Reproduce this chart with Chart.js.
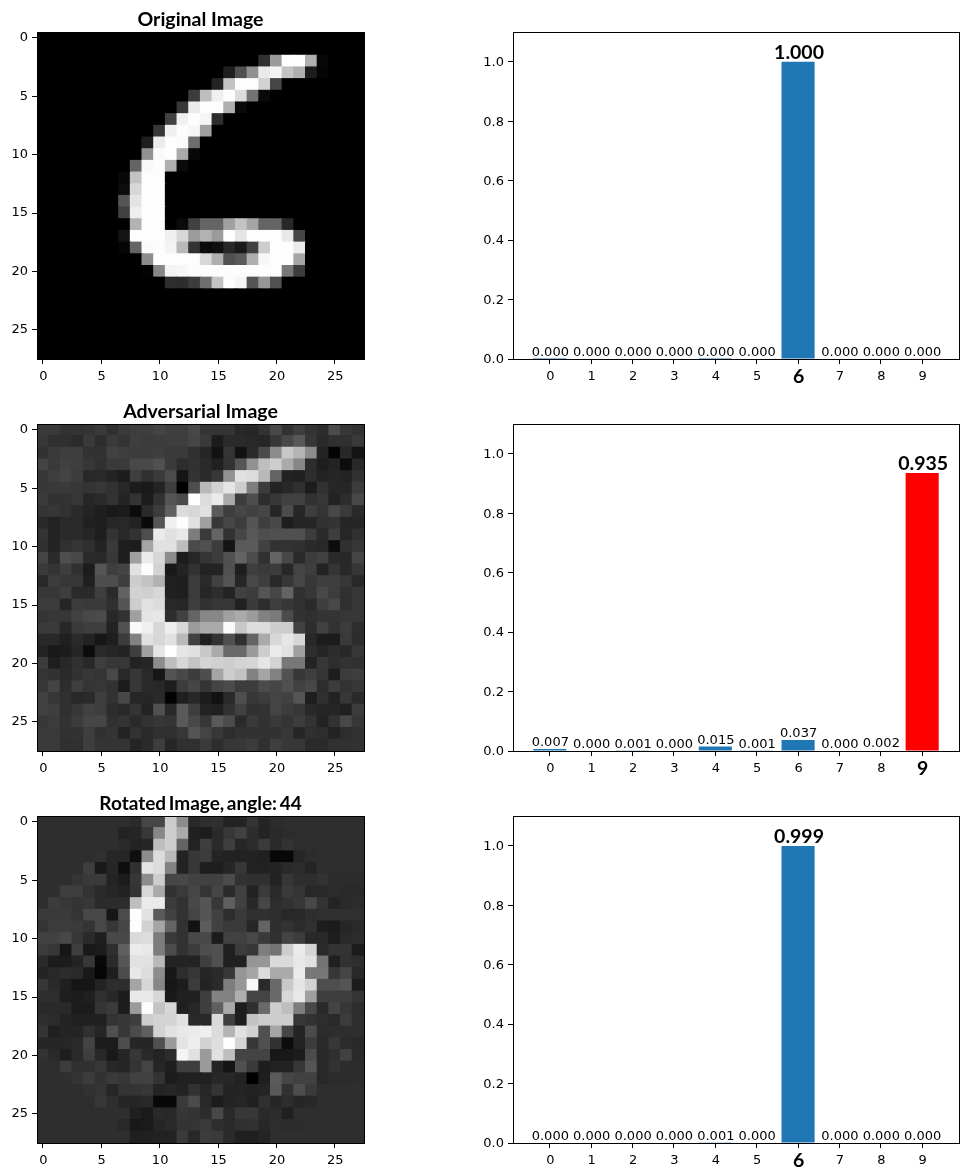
<!DOCTYPE html>
<html>
<head>
<meta charset="utf-8">
<title>MNIST predictions</title>
<script src="https://cdn.jsdelivr.net/npm/chart.js@4"></script>
<style>
    html, body { margin: 0; padding: 0; background: #fff; }
    canvas { position: absolute; }
</style>
</head>
<body>
<canvas id="image0" width="402" height="392" style="left:0;top:0"></canvas>
<canvas id="bars0" width="512" height="392" style="left:460px;top:0"></canvas>
<canvas id="image1" width="402" height="392" style="left:0;top:392px"></canvas>
<canvas id="bars1" width="512" height="392" style="left:460px;top:392px"></canvas>
<canvas id="image2" width="402" height="392" style="left:0;top:784px"></canvas>
<canvas id="bars2" width="512" height="392" style="left:460px;top:784px"></canvas>
<script>
const imageTicks = [0, 5, 10, 15, 20, 25];
const digits = [0, 1, 2, 3, 4, 5, 6, 7, 8, 9];
const probTicks = [0, 0.2, 0.4, 0.6, 0.8, 1.0];

const originalProbs = [0.0004, 0, 0, 0, 0.0004, 0, 1.0, 0, 0, 0.0002];
const adversarialProbs = [0.007, 0, 0.001, 0, 0.015, 0.001, 0.037, 0, 0.002, 0.935];
const rotatedProbs = [0, 0, 0, 0, 0.001, 0, 0.999, 0, 0, 0];

const imageTitles = ['Original Image', 'Adversarial Image', 'Rotated Image, angle: 44'];
const boldDigits = [6, 9, 6];
const redDigit = 9;

const originalImage = [
    [0,0,0,0,0,0,0,0,0,0,0,0,0,0,0,0,0,0,0,0,0,0,0,0,0,0,0,0],
    [0,0,0,0,0,0,0,0,0,0,0,0,0,0,0,0,0,0,0,0,0,0,0,0,0,0,0,0],
    [0,0,0,0,0,0,0,0,0,0,0,0,0,0,0,0,0,0,0,48,155,255,255,175,8,0,0,0],
    [0,0,0,0,0,0,0,0,0,0,0,0,0,0,0,0,30,80,145,235,245,195,175,28,5,0,0,0],
    [0,0,0,0,0,0,0,0,0,0,0,0,0,0,0,35,195,253,253,210,70,0,0,0,0,0,0,0],
    [0,0,0,0,0,0,0,0,0,0,0,0,0,60,190,240,253,220,115,10,0,0,0,0,0,0,0,0],
    [0,0,0,0,0,0,0,0,0,0,0,0,55,235,253,253,175,10,0,0,0,0,0,0,0,0,0,0],
    [0,0,0,0,0,0,0,0,0,0,0,65,240,253,245,45,0,0,0,0,0,0,0,0,0,0,0,0],
    [0,0,0,0,0,0,0,0,0,0,55,240,253,247,160,0,0,0,0,0,0,0,0,0,0,0,0,0],
    [0,0,0,0,0,0,0,0,0,30,235,253,250,110,0,0,0,0,0,0,0,0,0,0,0,0,0,0],
    [0,0,0,0,0,0,0,0,0,145,250,253,170,8,0,0,0,0,0,0,0,0,0,0,0,0,0,0],
    [0,0,0,0,0,0,0,0,100,248,253,175,10,0,0,0,0,0,0,0,0,0,0,0,0,0,0,0],
    [0,0,0,0,0,0,0,8,195,253,253,0,0,0,0,0,0,0,0,0,0,0,0,0,0,0,0,0],
    [0,0,0,0,0,0,0,12,215,253,253,0,0,0,0,0,0,0,0,0,0,0,0,0,0,0,0,0],
    [0,0,0,0,0,0,0,85,228,253,253,0,0,0,0,0,0,0,0,0,0,0,0,0,0,0,0,0],
    [0,0,0,0,0,0,0,65,238,253,253,0,0,0,0,0,0,0,0,0,0,0,0,0,0,0,0,0],
    [0,0,0,0,0,0,0,0,178,253,253,0,10,65,100,100,160,195,165,100,100,40,0,0,0,0,0,0],
    [0,0,0,0,0,0,0,20,253,253,253,240,215,155,178,155,253,228,253,253,253,232,70,0,0,0,0,0],
    [0,0,0,0,0,0,0,5,100,250,253,243,185,50,10,15,40,25,65,205,253,253,235,0,0,0,0,0],
    [0,0,0,0,0,0,0,0,0,140,253,253,253,253,215,175,80,90,175,247,253,253,165,0,0,0,0,0],
    [0,0,0,0,0,0,0,0,0,3,135,243,247,253,253,253,253,253,253,253,253,120,60,0,0,0,0,0],
    [0,0,0,0,0,0,0,0,0,0,0,45,45,60,110,195,253,245,85,150,80,0,0,0,0,0,0,0],
    [0,0,0,0,0,0,0,0,0,0,0,0,0,0,0,0,0,0,0,0,0,0,0,0,0,0,0,0],
    [0,0,0,0,0,0,0,0,0,0,0,0,0,0,0,0,0,0,0,0,0,0,0,0,0,0,0,0],
    [0,0,0,0,0,0,0,0,0,0,0,0,0,0,0,0,0,0,0,0,0,0,0,0,0,0,0,0],
    [0,0,0,0,0,0,0,0,0,0,0,0,0,0,0,0,0,0,0,0,0,0,0,0,0,0,0,0],
    [0,0,0,0,0,0,0,0,0,0,0,0,0,0,0,0,0,0,0,0,0,0,0,0,0,0,0,0],
    [0,0,0,0,0,0,0,0,0,0,0,0,0,0,0,0,0,0,0,0,0,0,0,0,0,0,0,0]
];

const adversarialImage = [
    [58,58,50,50,52,58,48,58,62,62,68,62,62,72,52,52,52,40,38,50,72,50,62,52,45,75,55,50],
    [55,48,48,42,58,45,58,52,62,60,60,62,62,70,58,28,42,42,40,38,55,72,88,55,42,48,48,58],
    [50,58,62,62,50,50,65,62,60,60,62,58,58,48,38,18,52,18,42,75,140,200,180,140,35,5,40,20],
    [68,58,65,62,55,48,58,58,72,72,80,58,45,50,42,32,50,85,145,190,205,170,135,45,30,35,12,40],
    [55,62,68,60,40,42,35,28,62,48,58,75,22,52,42,55,145,225,220,185,100,35,32,45,35,38,35,50],
    [55,58,58,55,52,55,50,40,28,25,35,62,0,78,185,210,230,205,125,60,35,40,48,28,50,38,38,60],
    [58,50,50,55,38,42,50,36,52,28,50,85,75,255,220,235,170,60,78,45,55,65,65,50,55,35,45,72],
    [52,55,50,42,35,30,25,28,12,42,60,95,220,215,225,90,62,70,65,70,38,75,38,62,52,72,58,42],
    [40,35,42,42,32,30,38,40,34,10,85,240,253,225,160,55,70,60,85,62,72,30,38,38,50,52,38,38],
    [52,35,42,42,38,30,52,40,50,78,235,225,232,125,58,100,50,70,88,78,80,80,80,60,42,62,38,48],
    [48,35,48,52,48,35,58,30,28,165,225,225,190,75,80,60,20,90,90,65,50,50,48,42,40,12,48,55],
    [68,42,78,72,42,40,55,30,160,235,215,140,28,38,52,60,80,100,75,48,100,72,42,60,65,42,40,68],
    [58,52,62,48,28,85,62,68,225,253,210,25,35,50,35,35,80,30,62,58,60,40,68,62,35,52,40,55],
    [40,60,55,55,32,78,78,62,205,195,178,32,30,60,42,65,85,38,72,62,40,55,70,55,62,62,55,40],
    [55,55,62,42,42,62,42,98,210,208,215,32,30,60,38,45,35,65,60,85,70,100,48,55,72,60,48,55],
    [60,60,38,60,58,58,48,85,205,225,220,40,38,62,50,55,55,32,58,45,62,55,50,42,62,72,48,55],
    [52,55,55,65,72,75,40,50,160,228,230,45,65,100,135,135,160,170,155,130,122,75,50,48,52,52,55,55],
    [58,58,40,58,62,62,35,80,250,240,215,238,215,155,170,170,250,200,220,220,205,205,65,45,65,50,60,45],
    [40,40,32,42,35,22,30,60,130,225,215,225,185,65,32,50,80,48,100,170,215,230,215,40,28,28,58,45],
    [35,25,28,38,12,42,38,35,62,160,230,255,230,225,200,170,105,105,155,205,235,225,160,45,38,45,40,55],
    [60,30,40,48,40,62,55,55,35,38,140,190,215,195,212,208,205,212,215,230,210,120,120,35,55,45,50,48],
    [52,50,42,50,55,52,72,40,55,42,22,82,72,60,78,165,205,195,130,165,130,82,55,62,52,30,60,62],
    [55,68,45,62,52,55,50,28,55,42,40,30,60,70,52,68,75,60,60,75,70,80,65,72,45,60,50,55],
    [65,55,48,40,42,62,50,72,38,38,42,3,32,40,28,18,42,78,55,60,68,65,85,30,48,35,55,42],
    [65,62,48,55,65,62,45,40,52,35,80,40,90,62,35,32,50,65,48,50,68,60,55,40,38,38,32,60],
    [55,60,50,60,70,70,48,52,42,50,55,52,90,72,55,90,75,42,58,50,58,52,60,50,35,50,72,55],
    [58,58,50,50,62,48,52,35,50,42,48,48,55,85,68,55,45,50,50,50,50,55,38,48,45,35,45,50],
    [58,58,48,48,62,52,52,52,36,42,62,38,48,48,58,45,55,55,60,48,62,55,55,42,42,48,48,50]
];

const rotatedImage = [
    [46,46,46,46,46,46,46,46,42,70,70,205,140,40,46,48,35,35,52,36,44,46,46,46,46,46,46,46],
    [46,46,46,46,46,46,46,35,38,55,135,205,170,32,28,42,55,65,45,36,42,44,46,46,46,46,46,46],
    [46,46,46,46,46,46,46,42,35,38,190,205,100,35,62,42,62,38,44,58,42,50,46,46,46,46,46,46],
    [46,46,46,46,46,48,38,38,15,140,220,185,35,55,60,36,34,34,34,32,8,8,38,44,46,46,46,46],
    [46,46,46,46,62,25,38,14,48,228,220,130,35,55,30,30,38,55,34,34,36,42,44,36,46,46,46,46],
    [46,46,46,52,58,58,36,28,55,140,205,70,72,65,65,65,75,50,48,48,34,55,46,46,50,44,44,44],
    [46,46,62,62,50,42,38,34,52,215,170,50,58,70,52,70,42,65,34,58,42,58,52,40,40,44,42,42],
    [46,60,55,52,55,42,44,44,190,235,235,60,50,72,85,55,95,65,40,70,45,50,55,72,50,36,42,44],
    [58,58,58,52,72,72,22,75,253,225,90,65,50,68,85,65,45,58,48,48,46,40,40,46,48,48,48,48],
    [52,60,60,58,52,72,55,70,253,210,165,100,50,18,92,65,58,58,38,100,46,50,44,48,30,28,38,42],
    [65,65,72,55,42,30,72,72,218,220,125,58,50,72,72,28,65,65,72,58,48,68,60,40,40,30,42,44],
    [60,55,22,62,25,28,46,95,235,232,125,75,50,60,78,80,32,60,55,125,115,205,235,212,42,52,52,28],
    [42,28,28,35,55,8,42,85,225,225,185,35,35,35,62,80,32,32,150,150,218,218,232,225,115,32,50,46],
    [36,40,45,42,25,5,30,75,232,220,140,24,45,55,38,42,55,150,165,220,170,170,235,120,120,55,70,40],
    [55,42,32,22,22,35,45,45,165,215,135,22,28,60,35,42,125,150,248,42,105,200,228,210,78,78,85,28],
    [46,46,30,28,32,48,40,28,232,232,215,25,32,32,62,130,130,175,68,68,105,215,232,160,62,62,62,52],
    [42,42,42,28,28,52,58,28,155,253,195,215,32,38,62,95,170,30,48,105,205,190,125,72,42,68,55,45],
    [46,44,36,32,32,32,52,55,62,205,212,212,225,40,40,218,62,30,195,205,205,205,55,50,46,42,60,46],
    [52,32,36,36,48,38,80,55,75,95,210,225,232,235,240,220,180,225,210,80,165,70,36,75,44,46,46,46],
    [38,38,38,42,68,28,28,78,38,38,80,155,228,238,210,222,253,212,55,80,50,12,35,60,42,55,44,40],
    [50,42,30,42,62,40,25,38,55,42,36,45,245,225,155,225,190,68,68,68,24,24,28,75,40,48,65,42],
    [46,46,60,48,48,55,40,38,52,68,38,30,62,62,155,36,20,80,58,30,34,34,55,85,40,50,44,44],
    [46,46,46,52,60,50,58,55,65,65,52,28,32,32,32,40,40,34,0,30,90,70,65,65,40,44,44,44],
    [46,46,46,46,50,52,38,52,52,55,36,38,34,50,38,52,36,36,34,36,88,50,78,58,46,46,46,46],
    [46,46,46,46,46,55,46,38,38,40,8,8,58,75,40,28,36,38,32,48,38,45,38,40,46,46,46,46],
    [46,46,46,46,46,46,46,46,32,26,42,40,55,52,44,72,42,55,55,42,44,32,46,46,46,46,46,46],
    [46,46,46,46,46,46,46,40,24,26,38,42,52,52,58,46,42,48,50,40,46,44,44,46,46,46,46,46],
    [46,46,46,46,46,46,46,46,32,32,34,34,58,40,60,58,42,32,32,36,46,46,46,46,46,46,46,46]
];

Chart.defaults.color = '#000';
Chart.defaults.animation = false;

const tickFont = { family: "'DejaVu Sans'", size: 13, lineHeight: 1.2 };
const boldFont = { family: "Lato", size: 19.5, weight: 'bold' };

// black box around the plot, matplotlib style
const framePlugin = {
    id: 'frame',
    afterDraw(chart) {
        const { ctx, chartArea } = chart;
        ctx.save();
        ctx.strokeStyle = '#000';
        ctx.lineWidth = 1;
        ctx.strokeRect(chartArea.left + 0.5, chartArea.top + 0.5,
            chartArea.right - chartArea.left, chartArea.bottom - chartArea.top);
        ctx.restore();
    }
};

// value printed above each bar
const barLabelPlugin = {
    id: 'barLabels',
    afterDatasetsDraw(chart, args, opts) {
        const { ctx, scales } = chart;
        ctx.save();
        ctx.textAlign = 'center';
        ctx.textBaseline = 'alphabetic';
        ctx.fillStyle = '#000';
        chart.data.datasets[0].data.forEach(item => {
            const bold = item.x === opts.bold;
            ctx.font = bold ? "bold 19.5px Lato" : "13px 'DejaVu Sans'";
            ctx.fillText(item.y.toFixed(3), scales.x.getPixelForValue(item.x) + (bold ? 1 : 0.5),
                scales.y.getPixelForValue(item.y) - 3);
        });
        ctx.restore();
    }
};

// the reference font has narrow spaces, tighten the long title
const titleGapPlugin = {
    id: 'titleGap',
    beforeDraw(chart, args, opts) {
        chart.ctx.wordSpacing = opts.gap || '0px';
    }
};

function fixedAxis(extra) {
    return Object.assign({
        type: 'linear',
        bounds: 'data',
        offset: false,
        grid: { offset: false, drawOnChartArea: false, drawTicks: true, tickLength: 5, tickColor: '#000' },
        border: { display: false }
    }, extra);
}

function createImageChart(id, title, pixels, titleSize, gap) {
    const cells = [];
    pixels.forEach((row, y) => row.forEach((v, x) => cells.push({ x: x, y: y, v: v })));

    new Chart(document.getElementById(id), {
        type: 'scatter',
        data: {
            datasets: [{
                data: cells,
                pointStyle: 'rect',
                // a bit more than one cell, so neighbours overlap and no seams show
                pointRadius: 9.1,
                pointBorderWidth: 0,
                clip: 0,
                pointBackgroundColor: ctx => {
                    const v = ctx.raw.v;
                    return 'rgb(' + v + ',' + v + ',' + v + ')';
                }
            }]
        },
        options: {
            responsive: false,
            events: [],
            layout: { padding: { right: 38 } },
            plugins: {
                legend: { display: false },
                tooltip: { enabled: false },
                titleGap: { gap: gap },
                title: {
                    display: true,
                    text: title,
                    color: '#000',
                    fullSize: false,
                    font: { family: 'Lato', size: titleSize, weight: 'bold', lineHeight: 24 / titleSize },
                    padding: { top: 8, bottom: 0 }
                }
            },
            scales: {
                x: fixedAxis({
                    min: -0.5,
                    max: 27.5,
                    afterBuildTicks: scale => { scale.ticks = imageTicks.map(value => ({ value })); },
                    afterFit: scale => { scale.height = 33; },
                    ticks: { font: tickFont, padding: 5, labelOffset: 0.5, maxRotation: 0, autoSkip: false, callback: v => String(v) }
                }),
                y: fixedAxis({
                    min: -0.5,
                    max: 27.5,
                    reverse: true,
                    afterBuildTicks: scale => { scale.ticks = imageTicks.map(value => ({ value })); },
                    afterFit: scale => { scale.width = 37; },
                    ticks: { font: tickFont, padding: 4, autoSkip: false, callback: v => String(v) }
                })
            }
        },
        plugins: [titleGapPlugin, framePlugin]
    });
}

function createBarChart(id, probs, bold, thinBars) {
    new Chart(document.getElementById(id), {
        type: 'bar',
        data: {
            datasets: [{
                data: digits.map((d, i) => ({ x: d, y: probs[i] })),
                backgroundColor: digits.map((d, i) => {
                    if (thinBars && probs[i] === 0) return 'transparent';
                    if (d !== redDigit) return '#1f77b4';
                    return thinBars ? 'rgba(255,0,0,0.2)' : '#ff0000';
                }),
                minBarLength: thinBars ? 1 : 0,
                categoryPercentage: 1,
                barPercentage: 0.8
            }]
        },
        options: {
            responsive: false,
            events: [],
            layout: { padding: { top: 32, right: 13 } },
            plugins: {
                legend: { display: false },
                tooltip: { enabled: false },
                barLabels: { bold: bold }
            },
            scales: {
                x: fixedAxis({
                    min: -0.89,
                    max: 9.89,
                    afterBuildTicks: scale => { scale.ticks = digits.map(value => ({ value })); },
                    afterFit: scale => { scale.height = 33; },
                    ticks: {
                        maxRotation: 0,
                        autoSkip: false,
                        padding: 5,
                        labelOffset: 0.5,
                        callback: v => String(v),
                        // the predicted digit is printed bold and larger
                        font: ctx => (ctx.tick && ctx.tick.value === bold
                            ? Object.assign({ lineHeight: 0.8 }, boldFont) : tickFont)
                    }
                }),
                y: fixedAxis({
                    min: 0,
                    max: 1.1,
                    afterBuildTicks: scale => { scale.ticks = probTicks.map(value => ({ value })); },
                    afterFit: scale => { scale.width = 53; },
                    ticks: { font: tickFont, padding: 4, labelOffset: 1, autoSkip: false, callback: v => v.toFixed(1) }
                })
            }
        },
        plugins: [barLabelPlugin, framePlugin]
    });
}

createImageChart('image0', imageTitles[0], originalImage, 19.5);
createBarChart('bars0', originalProbs, boldDigits[0], true);
createImageChart('image1', imageTitles[1], adversarialImage, 19.5);
createBarChart('bars1', adversarialProbs, boldDigits[1], false);
createImageChart('image2', imageTitles[2], rotatedImage, 19, '-2px');
createBarChart('bars2', rotatedProbs, boldDigits[2], false);
</script>
</body>
</html>
